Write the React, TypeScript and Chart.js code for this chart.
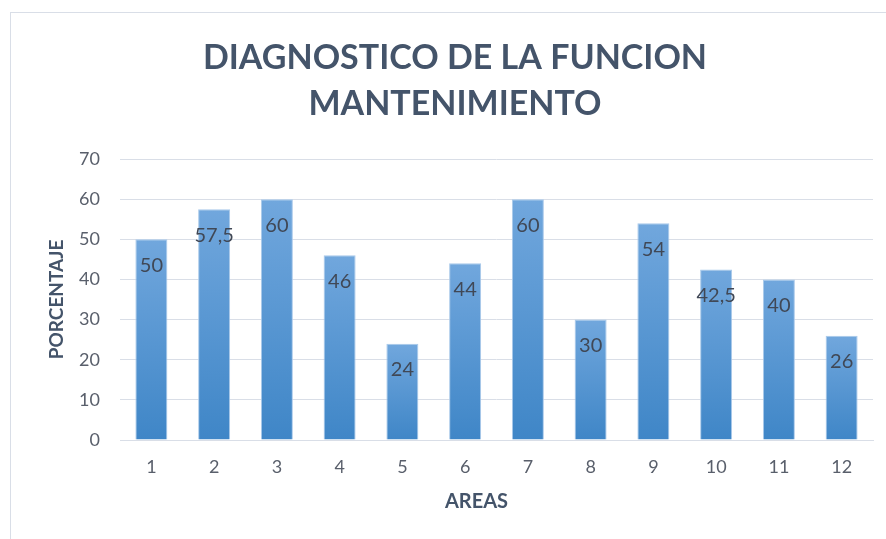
import React, { useEffect, useRef } from "react";
import { Chart, registerables } from "chart.js";

Chart.register(...registerables);

const categories = ["1", "2", "3", "4", "5", "6", "7", "8", "9", "10", "11", "12"];
const values = [50, 57.5, 60, 46, 24, 44, 60, 30, 54, 42.5, 40, 26];
const titleLines = ["DIAGNOSTICO DE LA FUNCION", "MANTENIMIENTO"];
const xTitle = "AREAS";
const yTitle = "PORCENTAJE";

const FONT = "Lato, 'Open Sans', sans-serif";
const TITLE_COLOR = "#44546A";
const TEXT_COLOR = "#595F6B";

const fmt = (v: number) => String(v).replace(".", ",");

const labelsPlugin = {
  id: "customText",
  afterDatasetsDraw(chart: any) {
    const ctx = chart.ctx;
    const area = chart.chartArea;
    ctx.save();
    // data labels
    const meta = chart.getDatasetMeta(0);
    ctx.font = `20px ${FONT}`;
    ctx.fillStyle = "#404856";
    ctx.textAlign = "center";
    ctx.textBaseline = "middle";
    meta.data.forEach((el: any, i: number) => {
      ctx.fillText(fmt(values[i]), el.x, el.y + 26);
    });
    // title
    ctx.font = `bold 34px ${FONT}`;
    ctx.fillStyle = TITLE_COLOR;
    const cx = chart.width / 2 + 4;
    ctx.fillText(titleLines[0], cx, 45);
    ctx.fillText(titleLines[1], cx, 91);
    // axis titles
    ctx.font = `bold 20px ${FONT}`;
    ctx.fillText(xTitle, area.left + (area.right - area.left) / 2 - 20, area.bottom + 62);
    ctx.font = `bold 19px ${FONT}`;
    ctx.translate(46, (area.top + area.bottom) / 2);
    ctx.rotate(-Math.PI / 2);
    ctx.fillText(yTitle, 0, 0);
    ctx.restore();
  },
};

export default function App() {
  const ref = useRef<HTMLCanvasElement>(null);
  useEffect(() => {
    const canvas = ref.current!;
    const chart = new Chart(canvas, {
      type: "bar",
      data: {
        labels: categories,
        datasets: [
          {
            data: values,
            backgroundColor: (c: any) => {
              const ch = c.chart;
              const area = ch.chartArea;
              if (!area || c.dataIndex === undefined) return "#5B9BD5";
              const top = ch.scales.y.getPixelForValue(values[c.dataIndex]);
              const g = ch.ctx.createLinearGradient(0, top, 0, area.bottom);
              g.addColorStop(0, "#71A7DD");
              g.addColorStop(1, "#3F86C7");
              return g;
            },
            borderColor: "#A9C9EA",
            borderWidth: 1,
            barPercentage: 0.51,
            categoryPercentage: 1,
          },
        ],
      },
      options: {
        responsive: false,
        animation: false,
        layout: { padding: { top: 146, right: 18, left: 0, bottom: 0 } },
        plugins: {
          legend: { display: false },
          title: { display: false },
          tooltip: { enabled: false },
        },
        scales: {
          x: {
            grid: { display: false, drawTicks: false },
            border: { color: "#D9DEE7", width: 1 },
            ticks: { color: TEXT_COLOR, font: { family: FONT, size: 18 }, padding: 16 },
            afterFit: (s: any) => {
              s.height = 98;
            },
          },
          y: {
            min: 0,
            max: 70,
            ticks: { stepSize: 10, color: TEXT_COLOR, font: { family: FONT, size: 18 }, padding: 20 },
            grid: { color: "#D9DEE7", drawTicks: false },
            border: { display: false },
            afterFit: (s: any) => {
              s.width = 109;
            },
          },
        },
      },
      plugins: [labelsPlugin],
    });
    return () => chart.destroy();
  }, []);

  return (
    <div
      style={{
        position: "absolute",
        left: 0,
        top: 0,
        width: 886,
        height: 539,
        overflow: "hidden",
        background: "#fff",
      }}
    >
      <div
        style={{
          position: "absolute",
          left: 10,
          top: 12,
          width: 900,
          height: 560,
          border: "1px solid #D9DEE7",
        }}
      />
      <canvas
        ref={ref}
        width={880}
        height={525}
        style={{ position: "absolute", left: 11, top: 13, width: 880, height: 525 }}
      />
    </div>
  );
}
